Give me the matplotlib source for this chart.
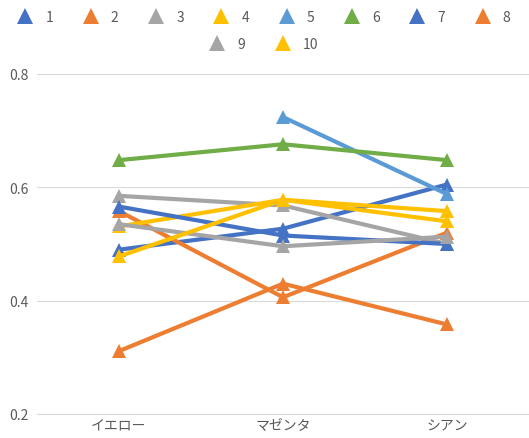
import numpy as np
import matplotlib
matplotlib.use("Agg")
import matplotlib.pyplot as plt
from matplotlib.lines import Line2D

plt.rcParams['font.family'] = ['Noto Sans CJK JP', 'DejaVu Sans']

categories = ["イエロー", "マゼンタ", "シアン"]
series_names = ["1", "2", "3", "4", "5", "6", "7", "8", "9", "10"]

s1 = [0.490, 0.527, 0.605]
s2 = [0.558, 0.406, 0.520]
s3 = [0.585, 0.568, 0.500]
s4 = [0.531, 0.578, 0.558]
s5 = [np.nan, 0.724, 0.588]
s6 = [0.648, 0.676, 0.648]
s7 = [0.566, 0.515, 0.500]
s8 = [0.311, 0.430, 0.358]
s9 = [0.535, 0.496, 0.513]
s10 = [0.478, 0.578, 0.540]
series = [s1, s2, s3, s4, s5, s6, s7, s8, s9, s10]

colors = ["#4472C4", "#ED7D31", "#A5A5A5", "#FFC000", "#5B9BD5",
          "#70AD47", "#4472C4", "#ED7D31", "#A5A5A5", "#FFC000"]

yticks = [0.2, 0.4, 0.6, 0.8]

W, H = 529, 439
fig = plt.figure(figsize=(W / 100, H / 100), dpi=100)
ax = fig.add_axes([37 / W, 1 - 415 / H, 492 / W, 340 / H])

x = np.arange(len(categories))
for vals, col in zip(series, colors):
    ax.plot(x, vals, color=col, linewidth=3.0, marker='^', markersize=10,
            markeredgewidth=0, solid_capstyle='round', solid_joinstyle='round')

ax.set_xlim(-0.5, 2.5)
ax.set_ylim(0.2, 0.8)
ax.set_yticks(yticks)
ax.set_yticklabels([f"{v:.1f}" for v in yticks])
ax.set_xticks(x)
ax.set_xticklabels(categories)

ax.grid(axis='y', color='#D9D9D9', linewidth=0.8)
ax.set_axisbelow(True)
for side in ["left", "right", "top"]:
    ax.spines[side].set_visible(False)
ax.spines["bottom"].set_color('#D9D9D9')
ax.spines["bottom"].set_linewidth(0.8)
ax.tick_params(axis='both', length=0, labelsize=10, labelcolor='#595959')
ax.tick_params(axis='y', pad=6)
ax.tick_params(axis='x', pad=3)

def handles(idx):
    return [Line2D([], [], linestyle='none', marker='^', markersize=11,
                   markeredgewidth=0, color=colors[i]) for i in idx]

row1 = list(range(8))
row2 = [8, 9]
common = dict(frameon=False, fontsize=10, handlelength=1.0, handletextpad=0.95,
              columnspacing=2.2, labelcolor='#595959', borderaxespad=0)
leg1 = fig.legend(handles(row1), [series_names[i] for i in row1], ncol=8,
                  loc='center', bbox_to_anchor=(0.5, 1 - 18 / H), **common)
leg2 = fig.legend(handles(row2), [series_names[i] for i in row2], ncol=2,
                  loc='center', bbox_to_anchor=(0.5, 1 - 45 / H), **common)

fig.savefig("out.png", dpi=100)
